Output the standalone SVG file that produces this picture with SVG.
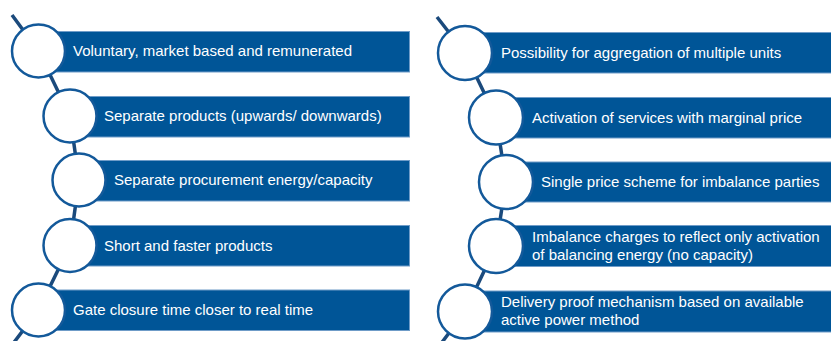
<svg xmlns="http://www.w3.org/2000/svg" width="831" height="341" viewBox="0 0 831 341">
<style>
.bar{fill:#005597;stroke:#6f9cc8;stroke-width:1}
.ring{fill:#ffffff;stroke:#13599a;stroke-width:2.5}
.conn{fill:none;stroke:#1b4a7c;stroke-width:3.5;stroke-linejoin:round}
.t{font-family:"Liberation Sans",Arial,sans-serif;font-size:15px;fill:#ffffff}
</style>
<rect width="831" height="341" fill="#ffffff"/>
<g id="connectors">
<polyline class="conn" points="12,15 38.5,51 70,116 79,180 70,245.5 38.5,310 12,345"/>
<polyline class="conn" points="437,17 465,53 496,117.5 506,182 496,246 465,311.5 440,345"/>
</g>
<g id="L1"><rect class="bar" x="38.5" y="31.5" width="371" height="40.5"/><circle class="ring" cx="38.5" cy="51" r="26.5"/><text class="t" x="73" y="56">Voluntary, market based and remunerated</text></g>
<g id="L2"><rect class="bar" x="70" y="96.5" width="339.5" height="40.5"/><circle class="ring" cx="70" cy="116" r="26.5"/><text class="t" x="104" y="121">Separate products (upwards/ downwards)</text></g>
<g id="L3"><rect class="bar" x="79" y="160.5" width="330.5" height="40.5"/><circle class="ring" cx="79" cy="180" r="26.5"/><text class="t" x="114" y="185">Separate procurement energy/capacity</text></g>
<g id="L4"><rect class="bar" x="70" y="225.5" width="339.5" height="40.5"/><circle class="ring" cx="70" cy="245.5" r="26.5"/><text class="t" x="104" y="250.5">Short and faster products</text></g>
<g id="L5"><rect class="bar" x="38.5" y="290" width="371" height="40.5"/><circle class="ring" cx="38.5" cy="310" r="26.5"/><text class="t" x="73" y="315">Gate closure time closer to real time</text></g>
<g id="R1"><rect class="bar" x="465" y="32.5" width="370" height="40.5"/><circle class="ring" cx="465" cy="53" r="27"/><text class="t" x="501" y="57.5">Possibility for aggregation of multiple units</text></g>
<g id="R2"><rect class="bar" x="496" y="97.5" width="340" height="40.5"/><circle class="ring" cx="496" cy="117.5" r="27"/><text class="t" x="532" y="122.5">Activation of services with marginal price</text></g>
<g id="R3"><rect class="bar" x="506" y="162" width="330" height="40"/><circle class="ring" cx="506" cy="182" r="27"/><text class="t" x="541" y="187">Single price scheme for imbalance parties</text></g>
<g id="R4"><rect class="bar" x="496" y="225.5" width="340" height="41"/><circle class="ring" cx="496" cy="246" r="27"/><text class="t" x="532" y="242">Imbalance charges to reflect only activation</text><text class="t" x="532" y="260">of balancing energy (no capacity)</text></g>
<g id="R5"><rect class="bar" x="465" y="291" width="370" height="41"/><circle class="ring" cx="465" cy="311.5" r="27"/><text class="t" x="501" y="307">Delivery proof mechanism based on available</text><text class="t" x="501" y="324.5">active power method</text></g>
</svg>
